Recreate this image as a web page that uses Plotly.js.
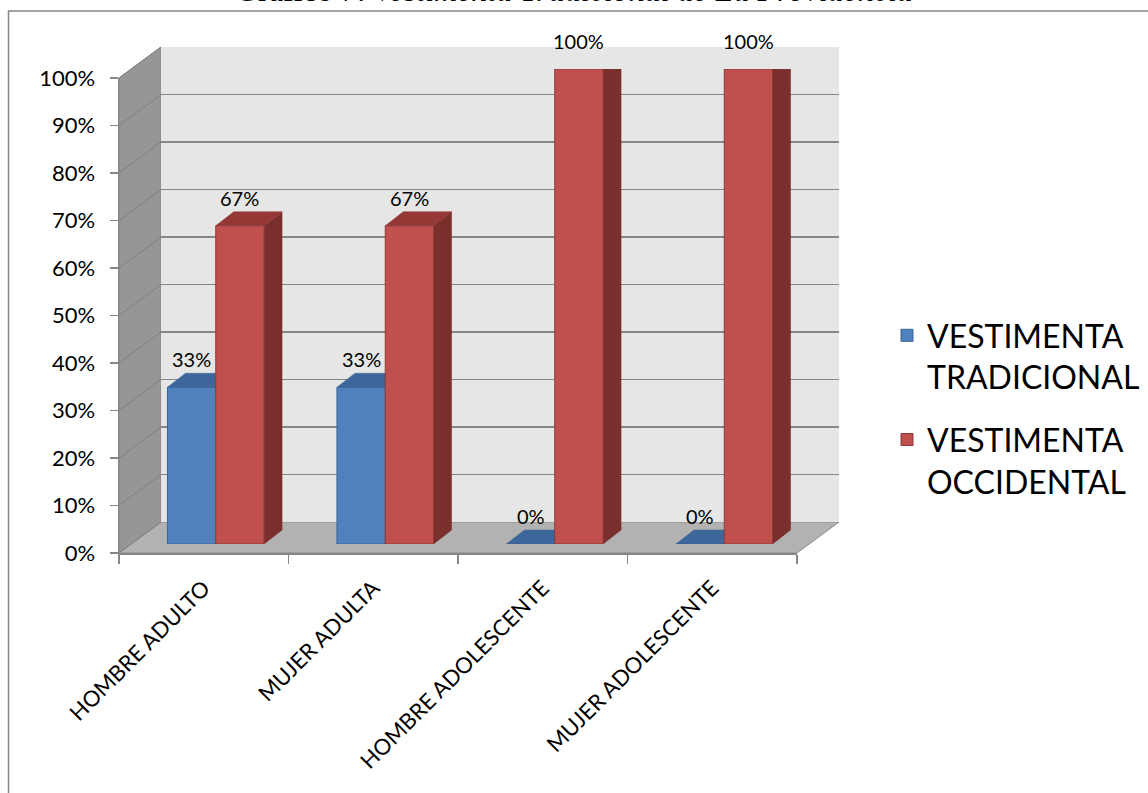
<!DOCTYPE html>
<html><head><meta charset="utf-8">
<script src="https://cdn.plot.ly/plotly-3.0.1.min.js"></script>
<style>html,body{margin:0;padding:0;background:#fff;overflow:hidden}#chart{width:1148px;height:793px}</style>
</head><body><div id="chart"></div>
<script>
// ---- data ----
const categories = ['HOMBRE ADULTO', 'MUJER ADULTA', 'HOMBRE ADOLESCENTE', 'MUJER ADOLESCENTE'];
const seriesNames = ['VESTIMENTA<br>TRADICIONAL', 'VESTIMENTA<br>OCCIDENTAL'];
const tradicional = [0.33, 0.33, 0, 0];
const occidental = [0.67, 0.67, 1, 1];
const tradicionalLabels = ['33%', '33%', '0%', '0%'];
const occidentalLabels = ['67%', '67%', '100%', '100%'];
const yTickVals = [0, 0.1, 0.2, 0.3, 0.4, 0.5, 0.6, 0.7, 0.8, 0.9, 1];
const yTickText = ['0%', '10%', '20%', '30%', '40%', '50%', '60%', '70%', '80%', '90%', '100%'];
const titleText = 'Gráfico 7: <i>Vestimenta Tradicional de La Providencia</i>';

// ---- geometry (pixels) ----
const W = 1148, H = 793;
const FL = 119, FR = 797, FB = 553, FT = 78;   // front plane
const DX = 42, DY = 31;                         // wall depth
const BX = 12, BY = 9;                          // bar plane offset
const BDX = 18, BDY = 14;                       // bar depth
const px = p => p / W, py = p => 1 - p / H;
const FH = FB - FT, FW = FR - FL;
const yF = v => FB - v * FH;                    // front pixel for value
const yB = v => FB - DY - v * FH;               // back pixel for value

const colors = {
  blue: {front: '#4F81BD', line: '#3A6496', top: '#3D679A', side: '#2F5283'},
  red: {front: '#C0504D', line: '#8C3A38', top: '#953735', side: '#7A2F2D'}
};
const BARGAP = 0.43;
const bw = (1 - BARGAP) / 2;
const idx = categories.map((c, i) => i);
const dxd = BDX / (FW / 4), dyd = BDY / FH;

const font = 'Lato, "Open Sans", sans-serif';

const traces = [
  {type: 'scatter', x: categories, y: categories.map(() => 0), mode: 'markers',
   marker: {opacity: 0}, hoverinfo: 'skip', showlegend: false, xaxis: 'x', yaxis: 'y'},
  {type: 'scatter', x: [0], y: [0], mode: 'markers', marker: {opacity: 0},
   hoverinfo: 'skip', showlegend: false, xaxis: 'x2', yaxis: 'y2'},
  {type: 'bar', name: seriesNames[0], x: idx, y: tradicional, xaxis: 'x3', yaxis: 'y3',
   marker: {color: colors.blue.front, line: {color: colors.blue.line, width: 1}},
   legendgroup: 'a', hoverinfo: 'skip'},
  {type: 'bar', name: seriesNames[1], x: idx, y: occidental, xaxis: 'x3', yaxis: 'y3',
   marker: {color: colors.red.front, line: {color: colors.red.line, width: 1}},
   legendgroup: 'b', hoverinfo: 'skip'}
];

const shapes = [];
// outer border
shapes.push({type: 'rect', xref: 'paper', yref: 'paper', x0: px(8.5), x1: 1.05, y0: -0.05, y1: py(11),
  line: {color: '#868686', width: 1.5}, fillcolor: 'rgba(0,0,0,0)', layer: 'below'});
// left wall
shapes.push({type: 'path', xref: 'paper', yref: 'paper', layer: 'below',
  path: `M ${px(FL)},${py(yF(0))} L ${px(FL)},${py(yF(1))} L ${px(FL + DX)},${py(yB(1))} L ${px(FL + DX)},${py(yB(0))} Z`,
  fillcolor: '#969696', line: {color: '#868686', width: 1}});
// floor
shapes.push({type: 'path', xref: 'paper', yref: 'paper', layer: 'below',
  path: `M ${px(FL)},${py(yF(0))} L ${px(FR)},${py(yF(0))} L ${px(FR + DX)},${py(yB(0))} L ${px(FL + DX)},${py(yB(0))} Z`,
  fillcolor: '#B2B2B2', line: {color: '#8C8C8C', width: 1}});
// left wall diagonal grid lines
yTickVals.forEach(v => {
  shapes.push({type: 'line', xref: 'paper', yref: 'paper', layer: 'below',
    x0: px(FL), y0: py(yF(v)), x1: px(FL + DX), y1: py(yB(v)),
    line: {color: '#7F7F7F', width: 1}});
});
// back wall
shapes.push({type: 'rect', xref: 'x2 domain', yref: 'y2 domain', x0: 0, x1: 1, y0: 0, y1: 1,
  layer: 'below', fillcolor: '#E6E6E6', line: {width: 0}});
// bar 3D faces
function faces(vals, offset, c) {
  vals.forEach((v, i) => {
    const xl = i + offset - bw / 2, xr = i + offset + bw / 2;
    shapes.push({type: 'path', xref: 'x3', yref: 'y3', layer: 'below', line: {width: 0.5, color: c.side},
      fillcolor: c.side,
      path: `M ${xr},0 L ${xr},${v} L ${xr + dxd},${v + dyd} L ${xr + dxd},${dyd} Z`});
    shapes.push({type: 'path', xref: 'x3', yref: 'y3', layer: 'below', line: {width: 0.5, color: c.top},
      fillcolor: c.top,
      path: `M ${xl},${v} L ${xr},${v} L ${xr + dxd},${v + dyd} L ${xl + dxd},${v + dyd} Z`});
  });
}
faces(tradicional, -bw / 2, colors.blue);
faces(occidental, bw / 2, colors.red);

const annotations = [];
annotations.push({xref: 'paper', yref: 'paper', x: 0.5, y: py(10), xanchor: 'center', yanchor: 'bottom',
  text: titleText, showarrow: false, font: {family: '"Liberation Serif", "Times New Roman", serif', size: 32, color: '#000'}});
function labels(vals, texts, offset) {
  vals.forEach((v, i) => {
    annotations.push({xref: 'x3', yref: 'y3', x: i + offset, y: v, xanchor: 'center', yanchor: 'bottom',
      yshift: 14, text: texts[i], showarrow: false, font: {family: font, size: 20, color: '#000'}});
  });
}
labels(tradicional, tradicionalLabels, -bw / 2);
labels(occidental, occidentalLabels, bw / 2);

const layout = {
  width: W, height: H,
  margin: {l: 0, r: 0, t: 0, b: 0, pad: 0},
  paper_bgcolor: '#fff', plot_bgcolor: 'rgba(0,0,0,0)',
  showlegend: true,
  barmode: 'group', bargap: BARGAP, bargroupgap: 0,
  font: {family: font, color: '#000'},
  xaxis: {domain: [px(FL), px(FR)], anchor: 'y', type: 'category', range: [-0.5, 3.5],
    showline: true, linecolor: '#868686', linewidth: 1.5, showgrid: false, zeroline: false,
    ticks: 'outside', tickson: 'boundaries', ticklen: 9, tickcolor: '#868686', tickwidth: 1.5,
    ticklabelstandoff: 12,
    tickangle: -45, tickfont: {family: font, size: 22, color: '#000'}, fixedrange: true},
  yaxis: {domain: [py(FB), py(FT)], anchor: 'x', range: [0, 1], tickmode: 'array',
    tickvals: yTickVals, ticktext: yTickText, showline: true, linecolor: '#868686', linewidth: 1.5,
    showgrid: false, zeroline: false, ticks: 'outside', ticklen: 8, tickcolor: '#868686', tickwidth: 1.5,
    ticklabelstandoff: 10, tickfont: {family: font, size: 22, color: '#000'}, fixedrange: true},
  xaxis2: {domain: [px(FL + DX), px(FR + DX)], anchor: 'y2', range: [-0.5, 3.5], visible: true,
    showgrid: false, zeroline: false, showticklabels: false, ticks: '', showline: false, fixedrange: true},
  yaxis2: {domain: [py(FB - DY), py(FT - DY)], anchor: 'x2', range: [0, 1], tickmode: 'array',
    tickvals: yTickVals, showgrid: true, gridcolor: '#868686', gridwidth: 1.5, zeroline: false,
    showticklabels: false, ticks: '', showline: false, fixedrange: true},
  xaxis3: {domain: [px(FL + BX), px(FR + BX)], anchor: 'y3', range: [-0.5, 3.5],
    showgrid: false, zeroline: false, showticklabels: false, ticks: '', showline: false, fixedrange: true},
  yaxis3: {domain: [py(FB - BY), py(FT - BY)], anchor: 'x3', range: [0, 1],
    showgrid: false, zeroline: false, showticklabels: false, ticks: '', showline: false, fixedrange: true},
  legend: {x: px(887), y: py(308), xanchor: 'left', yanchor: 'top', traceorder: 'grouped',
    tracegroupgap: 18, valign: 'top', bgcolor: 'rgba(0,0,0,0)',
    font: {family: font, size: 32, color: '#000'}},
  shapes: shapes,
  annotations: annotations
};

Plotly.newPlot('chart', traces, layout, {displayModeBar: false, staticPlot: true});
</script>
</body></html>
